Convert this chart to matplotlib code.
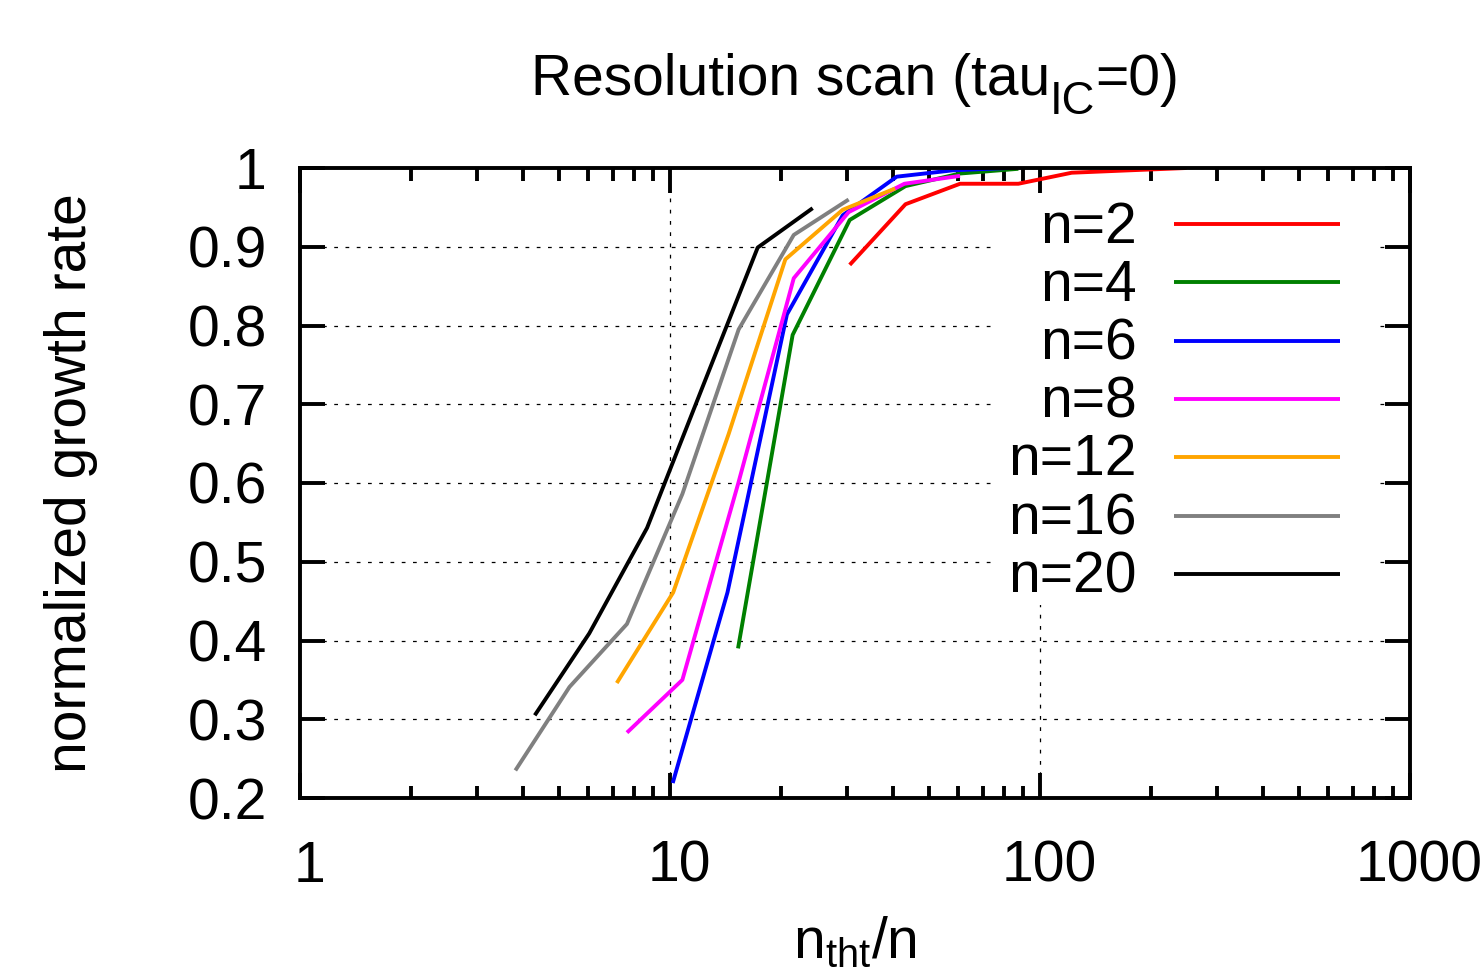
import matplotlib
matplotlib.use('Agg')
import matplotlib.pyplot as plt
import matplotlib.ticker as mticker
from matplotlib.lines import Line2D
from matplotlib.patches import Rectangle
from matplotlib.transforms import ScaledTranslation

plt.rcParams['font.family'] = ['Liberation Sans', 'DejaVu Sans']
plt.rcParams['mathtext.fontset'] = 'custom'
plt.rcParams['mathtext.rm'] = 'Liberation Sans'
plt.rcParams['mathtext.it'] = 'Liberation Sans'
plt.rcParams['mathtext.default'] = 'regular'

# ---- data ----
labels = ['n=2', 'n=4', 'n=6', 'n=8', 'n=12', 'n=16', 'n=20']
colors = ['#ff0000', '#008000', '#0000ff', '#ff00ff', '#ffa500', '#808080', '#000000']

x_n2 = [30.6, 43.3, 60.8, 87.4, 121.8, 173.0, 249.0]
y_n2 = [0.877, 0.954, 0.980, 0.980, 0.994, 0.997, 1.000]

x_n4 = [15.27, 21.45, 30.6, 43.3, 60.8, 87.4]
y_n4 = [0.390, 0.788, 0.934, 0.977, 0.993, 0.999]

x_n6 = [10.17, 14.3, 20.7, 29.3, 41.0, 58.0, 82.0]
y_n6 = [0.219, 0.461, 0.814, 0.940, 0.989, 0.997, 1.000]

x_n8 = [7.65, 10.8, 15.3, 21.6, 30.4, 43.0, 60.8]
y_n8 = [0.283, 0.350, 0.600, 0.860, 0.944, 0.980, 0.990]

x_n12 = [7.18, 10.2, 14.4, 20.5, 29.3, 40.6]
y_n12 = [0.346, 0.461, 0.662, 0.884, 0.947, 0.974]

x_n16 = [3.82, 5.35, 7.65, 10.8, 15.33, 21.6, 30.4]
y_n16 = [0.235, 0.341, 0.421, 0.586, 0.795, 0.915, 0.960]

x_n20 = [4.31, 6.05, 8.67, 12.2, 17.26, 24.3]
y_n20 = [0.305, 0.409, 0.543, 0.720, 0.899, 0.949]

xs = [x_n2, x_n4, x_n6, x_n8, x_n12, x_n16, x_n20]
ys = [y_n2, y_n4, y_n6, y_n8, y_n12, y_n16, y_n20]

xtick_vals = [1, 10, 100, 1000]
xtick_labels = ['1', '10', '100', '1000']
ytick_vals = [0.2, 0.3, 0.4, 0.5, 0.6, 0.7, 0.8, 0.9, 1.0]
ytick_labels = ['0.2', '0.3', '0.4', '0.5', '0.6', '0.7', '0.8', '0.9', '1']

FS = 41
LW = 2.8

fig = plt.figure(figsize=(14.82, 9.73), dpi=100)
W, H = 1482, 973
ax = fig.add_axes([300 / W, 1 - 798 / H, 1110 / W, 630 / H])

for x, y, c in zip(xs, ys, colors):
    ax.plot(x, y, color=c, lw=LW, solid_capstyle='butt', zorder=2)

ax.set_xscale('log')
ax.set_xlim(1, 1000)
ax.set_ylim(0.2, 1.0)
ax.set_xticks(xtick_vals)
ax.set_xticklabels(xtick_labels)
ax.xaxis.set_minor_locator(mticker.LogLocator(base=10, subs=range(2, 10), numticks=20))
ax.xaxis.set_minor_formatter(mticker.NullFormatter())
ax.set_yticks(ytick_vals)
ax.set_yticklabels(ytick_labels)
ax.yaxis.set_minor_locator(mticker.NullLocator())

ax.tick_params(which='both', direction='in', top=True, right=True, width=LW, labelsize=FS)
ax.tick_params(which='major', length=18)
ax.tick_params(which='minor', length=9)
ax.tick_params(axis='y', pad=24)
ax.tick_params(axis='x', pad=30)
for sp in ax.spines.values():
    sp.set_linewidth(LW)
    sp.set_zorder(4)

for lab in ax.get_xticklabels():
    lab.set_transform(lab.get_transform() + ScaledTranslation(9 / 100, 0, fig.dpi_scale_trans))

ax.grid(which='major', color='black', lw=0.9, linestyle=(0, (3, 6)))

# legend (gnuplot style: right-aligned labels, sample to the right, opaque box)
ax.add_patch(Rectangle((0.624, 0.306), 0.344, 0.651, transform=ax.transAxes,
                       facecolor='white', edgecolor='none', zorder=1.8))
row_y = [0.911, 0.8186, 0.7254, 0.6333, 0.5413, 0.4476, 0.3556]
for lab, c, yy in zip(labels, colors, row_y):
    ax.text(0.754, yy + 0.004, lab, transform=ax.transAxes, ha='right', va='center_baseline',
            fontsize=FS, zorder=3)
    ax.add_line(Line2D([0.7874, 0.937], [yy, yy], transform=ax.transAxes,
                       color=c, lw=LW, solid_capstyle='butt', zorder=3))

# title built from pieces so that the subscript is gnuplot-like (larger, lower)
renderer = fig.canvas.get_renderer()
title_parts = [('Resolution scan (tau', FS, 0.0), ('IC', FS * 0.8, -19.0), ('=0)', FS, 0.0)]
base_y = 1 - 95 / H
texts = []
widths = []
for s, fs, dy in title_parts:
    t = fig.text(0, base_y + dy / H, s, fontsize=fs, va='baseline', ha='left')
    texts.append(t)
    widths.append(t.get_window_extent(renderer=renderer).width)
total = sum(widths)
x0 = 855 - total / 2
for t, w in zip(texts, widths):
    t.set_x(x0 / W)
    x0 += w

ax.set_xlabel('n$_{tht}$/n', fontsize=FS)
ax.xaxis.set_label_coords(0.5, (798 - 958) / 630)
ax.xaxis.label.set_va('baseline')
ax.set_ylabel('normalized growth rate', fontsize=FS)
ax.yaxis.set_label_coords((71 - 300) / 1110, 0.5)
ax.yaxis.label.set_va('center')

fig.savefig('out.png', dpi=100)
